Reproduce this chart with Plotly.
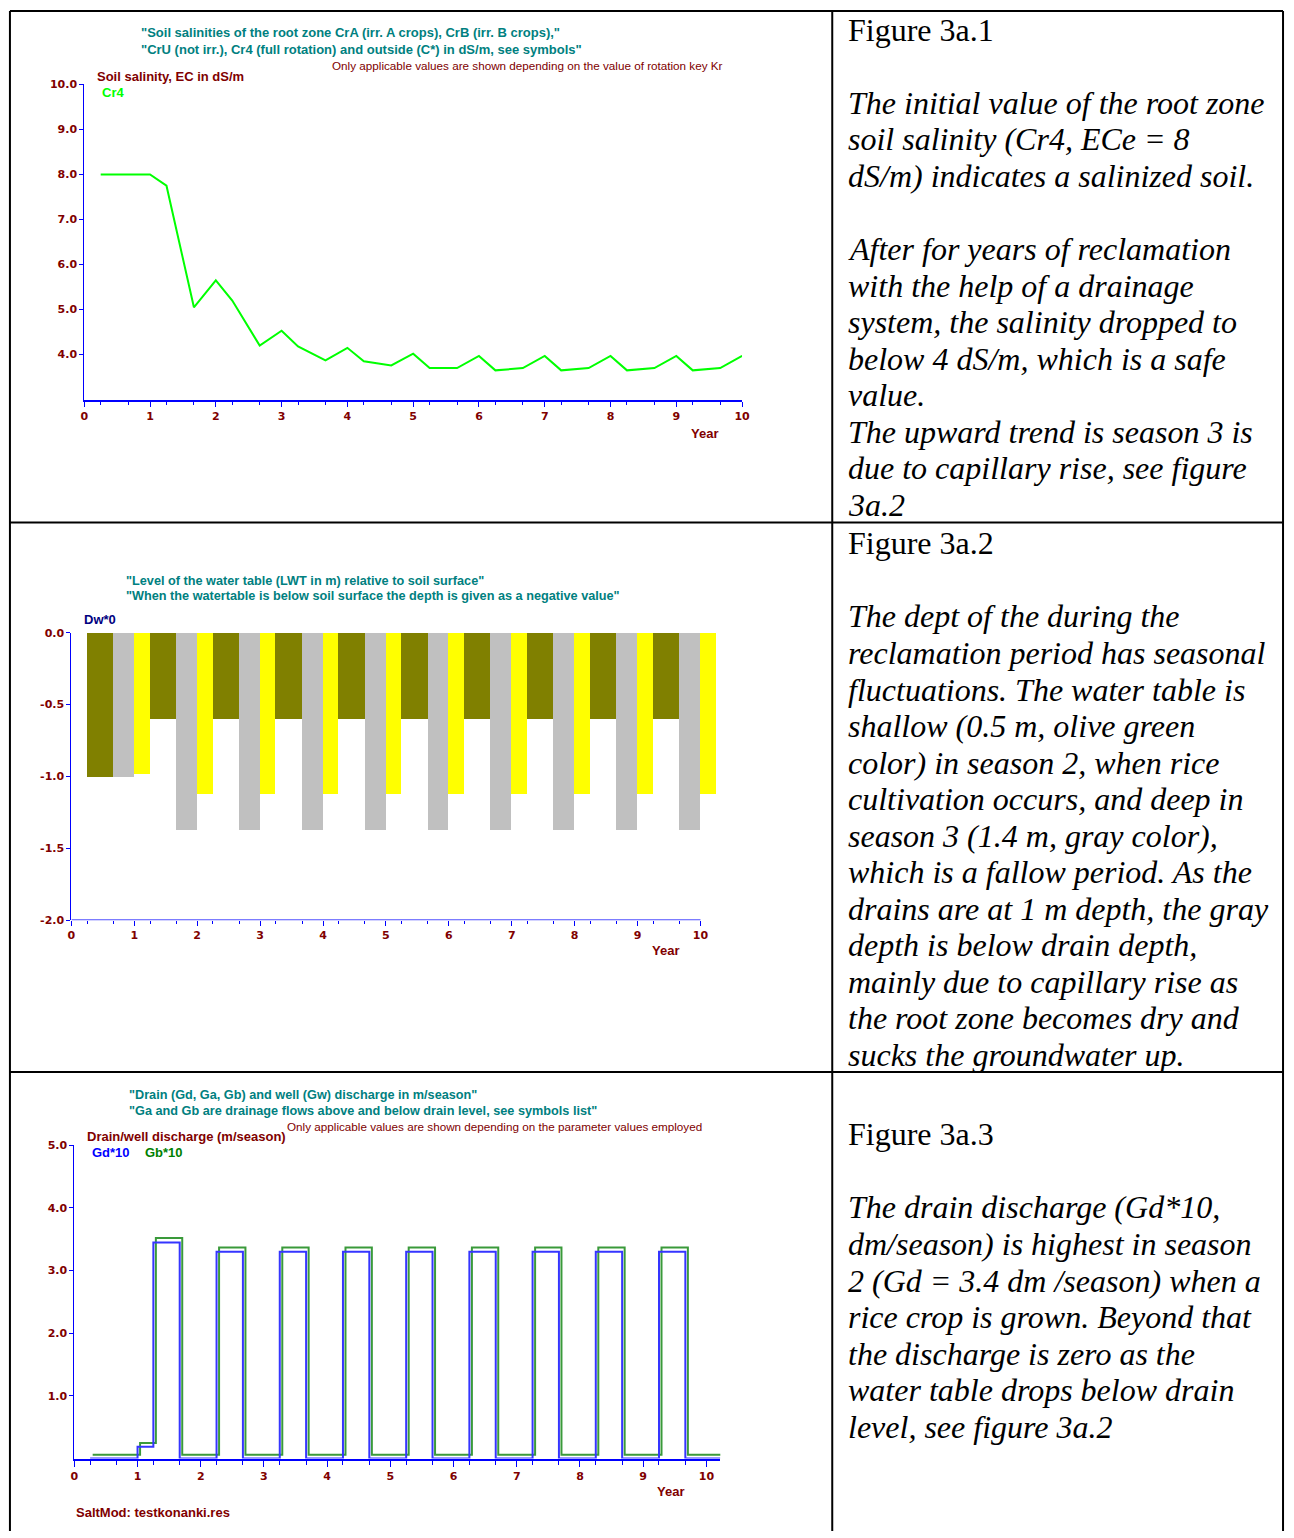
import plotly.graph_objects as go

W, H = 1294, 1538
def px(x): return x / W
def py(y): return 1 - y / H

# ---------------- data ----------------
# Chart 1: root zone salinity Cr4 (dS/m) at season ends
cr4_time = [0.25, 0.667, 1.0, 1.25, 1.667, 2.0, 2.25, 2.667, 3.0, 3.25, 3.667, 4.0,
            4.25, 4.667, 5.0, 5.25, 5.667, 6.0, 6.25, 6.667, 7.0, 7.25, 7.667, 8.0,
            8.25, 8.667, 9.0, 9.25, 9.667, 10.0]
cr4_values = [8.0, 8.0, 8.0, 7.75, 5.05, 5.65, 5.2, 4.2, 4.53, 4.18, 3.87, 4.15,
              3.85, 3.76, 4.02, 3.7, 3.7, 3.97, 3.65, 3.7, 3.97, 3.65, 3.7, 3.97,
              3.65, 3.7, 3.97, 3.65, 3.7, 3.97]
sal_ticks = [4, 5, 6, 7, 8, 9, 10]
sal_ticktext = ["4.0", "5.0", "6.0", "7.0", "8.0", "9.0", "10.0"]

# Chart 2: water table level (m) per season bar
wt_edges = [0.25, 0.667, 1.0, 1.25, 1.667, 2.0, 2.25, 2.667, 3.0, 3.25, 3.667, 4.0,
            4.25, 4.667, 5.0, 5.25, 5.667, 6.0, 6.25, 6.667, 7.0, 7.25, 7.667, 8.0,
            8.25, 8.667, 9.0, 9.25, 9.667, 10.0, 10.25]
wt_level = [-1.0, -1.0, -0.98, -0.6, -1.37, -1.12, -0.6, -1.37, -1.12, -0.6, -1.37, -1.12,
            -0.6, -1.37, -1.12, -0.6, -1.37, -1.12, -0.6, -1.37, -1.12, -0.6, -1.37, -1.12,
            -0.6, -1.37, -1.12, -0.6, -1.37, -1.12]
wt_season = ["s2", "s3", "s1"] * 10
wt_ticks = [-2.0, -1.5, -1.0, -0.5, 0.0]
wt_ticktext = ["-2.0", "-1.5", "-1.0", "-0.5", "0.0"]

# Chart 3: drain discharge (step series, value from each time on)
dis_time = [0.25, 1.0, 1.25, 1.667, 2.25, 2.667, 3.25, 3.667, 4.25, 4.667, 5.25, 5.667,
            6.25, 6.667, 7.25, 7.667, 8.25, 8.667, 9.25, 9.667, 10.22]
gd10 = [0.0, 0.19, 3.45, 0.0, 3.3, 0.0, 3.3, 0.0, 3.3, 0.0, 3.3, 0.0,
        3.3, 0.0, 3.3, 0.0, 3.3, 0.0, 3.3, 0.0, 0.0]
gb10 = [0.06, 0.25, 3.52, 0.06, 3.37, 0.06, 3.37, 0.06, 3.37, 0.06, 3.37, 0.06,
        3.37, 0.06, 3.37, 0.06, 3.37, 0.06, 3.37, 0.06, 0.06]
dis_ticks = [1, 2, 3, 4, 5]
dis_ticktext = ["1.0", "2.0", "3.0", "4.0", "5.0"]

year_ticks = list(range(11))
season_ticks = [y + f for y in range(10) for f in (0.25, 0.667)]

# ---------------- styles ----------------
BLUE = "#0000FF"
DARKRED = "#800000"
TEAL = "#008080"
SEASON_COLORS = {"s1": "#FFFF00", "s2": "#808000", "s3": "#C0C0C0"}
TICKFONT = dict(family="DejaVu Sans", size=11, color=DARKRED, weight="bold")
GREEN_SHIFT = 0.04

fig = go.Figure()

fig.add_trace(go.Scatter(x=cr4_time, y=cr4_values, mode="lines",
                         line=dict(color="#00FF00", width=2),
                         xaxis="x", yaxis="y", showlegend=False))

centers = [(a + b) / 2 for a, b in zip(wt_edges[:-1], wt_edges[1:])]
widths = [b - a for a, b in zip(wt_edges[:-1], wt_edges[1:])]
fig.add_trace(go.Bar(x=centers, y=wt_level, width=widths,
                     marker=dict(color=[SEASON_COLORS[s] for s in wt_season], line=dict(width=0)),
                     xaxis="x2", yaxis="y2", showlegend=False))

fig.add_trace(go.Scatter(x=[t + GREEN_SHIFT for t in dis_time], y=gb10, mode="lines",
                         line=dict(color="#3a9a3a", width=2, shape="hv"),
                         xaxis="x3", yaxis="y3", showlegend=False))
fig.add_trace(go.Scatter(x=dis_time, y=gd10, mode="lines",
                         line=dict(color="#3535ff", width=2, shape="hv"),
                         xaxis="x3", yaxis="y3", showlegend=False))


def xaxis_cfg(domain, rng, anchor, major_len, minor_len, showline=True):
    return dict(domain=domain, range=rng, anchor=anchor, showline=showline,
                linecolor=BLUE, linewidth=2, showgrid=False, zeroline=False,
                tickmode="array", tickvals=year_ticks, ticktext=[str(v) for v in year_ticks],
                ticks="outside", ticklen=major_len, tickcolor=BLUE, tickwidth=1,
                tickfont=TICKFONT,
                minor=dict(tickmode="array", tickvals=season_ticks, ticks="outside",
                           ticklen=minor_len, tickcolor=BLUE, tickwidth=1, showgrid=False),
                fixedrange=True)


def yaxis_cfg(domain, rng, anchor, vals, text):
    return dict(domain=domain, range=rng, anchor=anchor, showline=True, linecolor=BLUE,
                linewidth=1, showgrid=False, zeroline=False, tickmode="array",
                tickvals=vals, ticktext=text, ticks="outside", ticklen=4,
                tickcolor=BLUE, tickwidth=1, tickfont=TICKFONT, fixedrange=True)


fig.update_layout(
    width=W, height=H, margin=dict(l=0, r=0, t=0, b=0),
    paper_bgcolor="white", plot_bgcolor="white", showlegend=False,
    xaxis=xaxis_cfg([px(81), px(745)], [0, 10], "y", 5, 3),
    yaxis=yaxis_cfg([py(397), py(79)], [3, 10], "x", sal_ticks, sal_ticktext),
    xaxis2=xaxis_cfg([px(68), px(68 + 63.5 * 10.25)], [0, 10.25], "y2", 5, 3, showline=False),
    yaxis2=yaxis_cfg([py(922), py(632)], [-2, 0], "x2", wt_ticks, wt_ticktext),
    xaxis3=xaxis_cfg([px(71), px(723)], [0, 10.22], "y3", 6, 4),
    yaxis3=yaxis_cfg([py(1465), py(1149)], [0, 5], "x3", dis_ticks, dis_ticktext),
    bargap=0,
)

shapes = []
# x axis line of chart 2 (ends at year 10)
shapes.append(dict(type="line", xref="x2", yref="y2", x0=0, x1=10, y0=-2, y1=-2,
                   line=dict(color="#5050ff", width=2)))
# table borders
LW = 2
for x in (6, 836, 1291):
    shapes.append(dict(type="line", xref="paper", yref="paper", x0=px(x), x1=px(x),
                       y0=py(5), y1=0, line=dict(color="black", width=LW)))
for y in (5, 521, 1075):
    shapes.append(dict(type="line", xref="paper", yref="paper", x0=px(6), x1=px(1291),
                       y0=py(y), y1=py(y), line=dict(color="black", width=LW)))
fig.update_layout(shapes=shapes)

ann = []
def label(text, x, y, color, size=13, bold=True, anchor="left", family="Liberation Sans"):
    ann.append(dict(text=text, x=px(x), y=py(y), xref="paper", yref="paper",
                    xanchor=anchor, yanchor="middle", showarrow=False,
                    font=dict(family=family, size=size, color=color,
                              weight="bold" if bold else "normal")))

NOTE = 11.7
# chart 1 texts
label('"Soil salinities of the root zone CrA (irr. A crops), CrB (irr. B crops),"', 136, 27, TEAL)
label('"CrU (not irr.), Cr4 (full rotation) and outside (C*) in dS/m, see symbols"', 136, 44, TEAL)
label("Only applicable values are shown depending on the value of rotation key Kr", 728, 60, DARKRED,
      size=NOTE, bold=False, anchor="right")
label("Soil salinity, EC in dS/m", 92, 71, DARKRED)
label("Cr4", 97, 87, "#00FF00")
label("Year", 707, 431, DARKRED, anchor="center")
# chart 2 texts
label('"Level of the water table (LWT in m) relative to soil surface"', 121, 580, TEAL, size=12.7)
label('"When the watertable is below soil surface the depth is given as a negative value"', 121, 595,
      TEAL, size=12.7)
label("Dw*0", 79, 619, "#000080")
label("Year", 668, 953, DARKRED, anchor="center")
# chart 3 texts
label('"Drain (Gd, Ga, Gb) and well (Gw) discharge in m/season"', 124, 1098, TEAL, size=12.7)
label('"Ga and Gb are drainage flows above and below drain level, see symbols list"', 124, 1114,
      TEAL, size=12.7)
label("Only applicable values are shown depending on the parameter values employed", 707, 1130,
      DARKRED, size=NOTE, bold=False, anchor="right")
label("Drain/well discharge (m/season)", 82, 1140, DARKRED)
label("Gd*10", 87, 1156, BLUE)
label("Gb*10", 140, 1156, "#008000")
label("Year", 673, 1498, DARKRED, anchor="center")
label("SaltMod: testkonanki.res", 71, 1519, DARKRED)

# right column text
cell1 = ["Figure 3a.1", "",
         "<i>The initial value of the root zone</i>",
         "<i>soil salinity (Cr4, ECe = 8</i>",
         "<i>dS/m) indicates a salinized soil.</i>", "",
         "<i>After for years of reclamation</i>",
         "<i>with the help of a drainage</i>",
         "<i>system, the salinity dropped to</i>",
         "<i>below 4 dS/m, which is a safe</i>",
         "<i>value.</i>",
         "<i>The upward trend is season 3 is</i>",
         "<i>due to capillary rise, see figure</i>",
         "<i>3a.2</i>"]
cell2 = ["Figure 3a.2", "",
         "<i>The dept of the during the</i>",
         "<i>reclamation period has seasonal</i>",
         "<i>fluctuations. The water table is</i>",
         "<i>shallow (0.5 m, olive green</i>",
         "<i>color) in season 2, when rice</i>",
         "<i>cultivation occurs, and deep in</i>",
         "<i>season 3 (1.4 m, gray color),</i>",
         "<i>which is a fallow period. As the</i>",
         "<i>drains are at 1 m depth, the gray</i>",
         "<i>depth is below drain depth,</i>",
         "<i>mainly due to capillary rise as</i>",
         "<i>the root zone becomes dry and</i>",
         "<i>sucks the groundwater up.</i>"]
cell3 = ["Figure 3a.3", "",
         "<i>The drain discharge (Gd*10,</i>",
         "<i>dm/season) is highest in season</i>",
         "<i>2 (Gd = 3.4 dm /season) when a</i>",
         "<i>rice crop is grown. Beyond that</i>",
         "<i>the discharge is zero as the</i>",
         "<i>water table drops below drain</i>",
         "<i>level, see figure 3a.2</i>"]
LINE = 36.85
for lines, y0 in ((cell1, 24), (cell2, 542), (cell3, 1138)):
    for i, t in enumerate(lines):
        if t:
            label(t, 850, y0 + i * LINE, "black", size=32, bold=False,
                  family="Liberation Serif")

fig.update_layout(annotations=ann)
fig.write_html("out.html", config={"displayModeBar": False},
               post_script="document.body.style.margin='0';document.body.style.overflow='hidden';")
